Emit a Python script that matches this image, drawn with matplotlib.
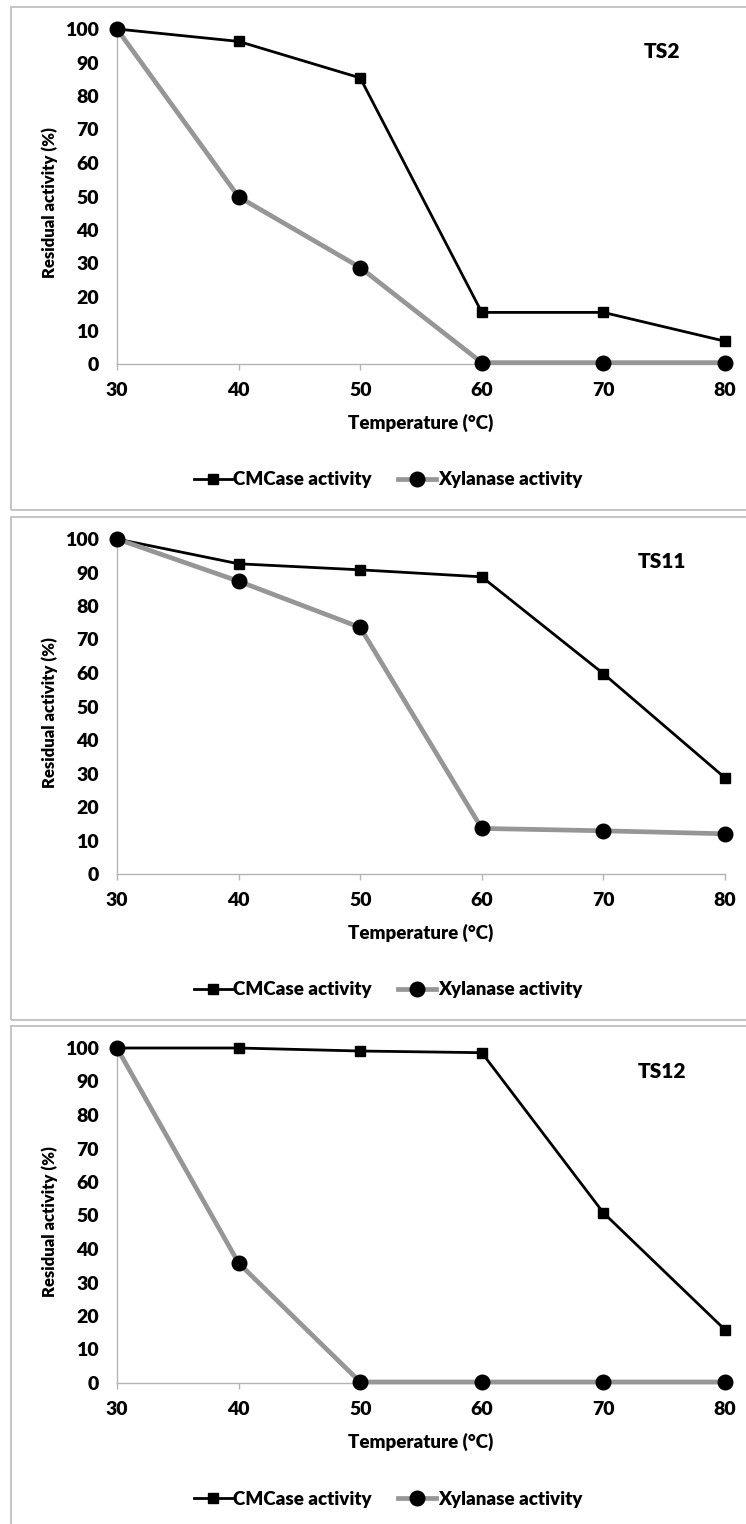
import matplotlib
matplotlib.use("Agg")
from matplotlib import pyplot as plt
from matplotlib.patches import Rectangle
import numpy as np

# temperatures (°C)
temps = [30, 40, 50, 60, 70, 80]

# residual activity (%)
ts2_cmcase = [100, 96.3, 85.4, 15.4, 15.4, 6.8]
ts2_xylanase = [100, 49.9, 28.8, 0.4, 0.4, 0.4]

ts11_cmcase = [100, 92.6, 90.8, 88.7, 59.8, 28.7]
ts11_xylanase = [100, 87.4, 73.6, 13.6, 12.9, 12.0]

ts12_cmcase = [100, 100, 99.1, 98.6, 50.8, 15.9]
ts12_xylanase = [100, 35.8, 0.3, 0.3, 0.3, 0.3]

panel_names = ["TS2", "TS11", "TS12"]
cmcase_sets = [ts2_cmcase, ts11_cmcase, ts12_cmcase]
xylanase_sets = [ts2_xylanase, ts11_xylanase, ts12_xylanase]
yticks = list(range(0, 101, 10))

W, H = 746, 1524
fig = plt.figure(figsize=(W / 100, H / 100), dpi=100)
plt.rcParams["font.family"] = ["Lato", "DejaVu Sans"]

def fx(px):
    return px / W

def fy(py):
    return 1 - py / H

panel_tops = [7, 517, 1026]
grey_line = "#969696"
spine_col = "#b4b4b4"

for top, name, cm, xy in zip(panel_tops, panel_names, cmcase_sets, xylanase_sets):
    # panel frame
    fig.patches.append(Rectangle((fx(11), fy(top + 503)), fx(760) - fx(11), fy(top) - fy(top + 503),
                                 transform=fig.transFigure, fill=False,
                                 edgecolor="#c4c4c4", linewidth=1.4))

    ax_l, ax_r = 117, 725
    ax_t, ax_b = top + 22, top + 357
    ax = fig.add_axes([fx(ax_l), fy(ax_b), fx(ax_r) - fx(ax_l), fy(ax_t) - fy(ax_b)])

    ax.plot(temps, cm, color="black", linewidth=2.0, marker="s", markersize=7,
            label="CMCase activity", clip_on=False, zorder=3)
    ax.plot(temps, xy, color=grey_line, linewidth=3.4, marker="o", markersize=10.5,
            markerfacecolor="black", markeredgecolor="black",
            label="Xylanase activity", clip_on=False, zorder=4)

    ax.set_xlim(30, 80)
    ax.set_ylim(0, 100)
    ax.set_xticks(temps)
    ax.set_yticks(yticks)
    for s in ["top", "right"]:
        ax.spines[s].set_visible(False)
    for s in ["left", "bottom"]:
        ax.spines[s].set_color(spine_col)
        ax.spines[s].set_linewidth(1.0)
    ax.tick_params(axis="x", direction="out", length=4, width=1.0, color=spine_col,
                   pad=9, labelsize=14)
    ax.tick_params(axis="y", length=0, pad=13, labelsize=14)
    for lab in ax.get_xticklabels() + ax.get_yticklabels():
        lab.set_fontweight("heavy")

    fig.text(fx(50), fy(top + 196), "Residual activity (%)", rotation=90,
             ha="center", va="center", fontsize=12, fontweight="heavy")
    fig.text(fx(421), fy(top + 416), "Temperature (°C)", ha="center", va="center",
             fontsize=13.5, fontweight="heavy")
    fig.text(fx(662), fy(top + 45), name, ha="center", va="center",
             fontsize=15, fontweight="heavy")

    ax.legend(loc="center", bbox_to_anchor=(fx(388), fy(top + 473)),
              bbox_transform=fig.transFigure, ncol=2, frameon=False,
              handlelength=2.0, handletextpad=0.1, columnspacing=1.4,
              prop={"weight": "heavy", "size": 13.5})

fig.savefig("out.png", dpi=100)
